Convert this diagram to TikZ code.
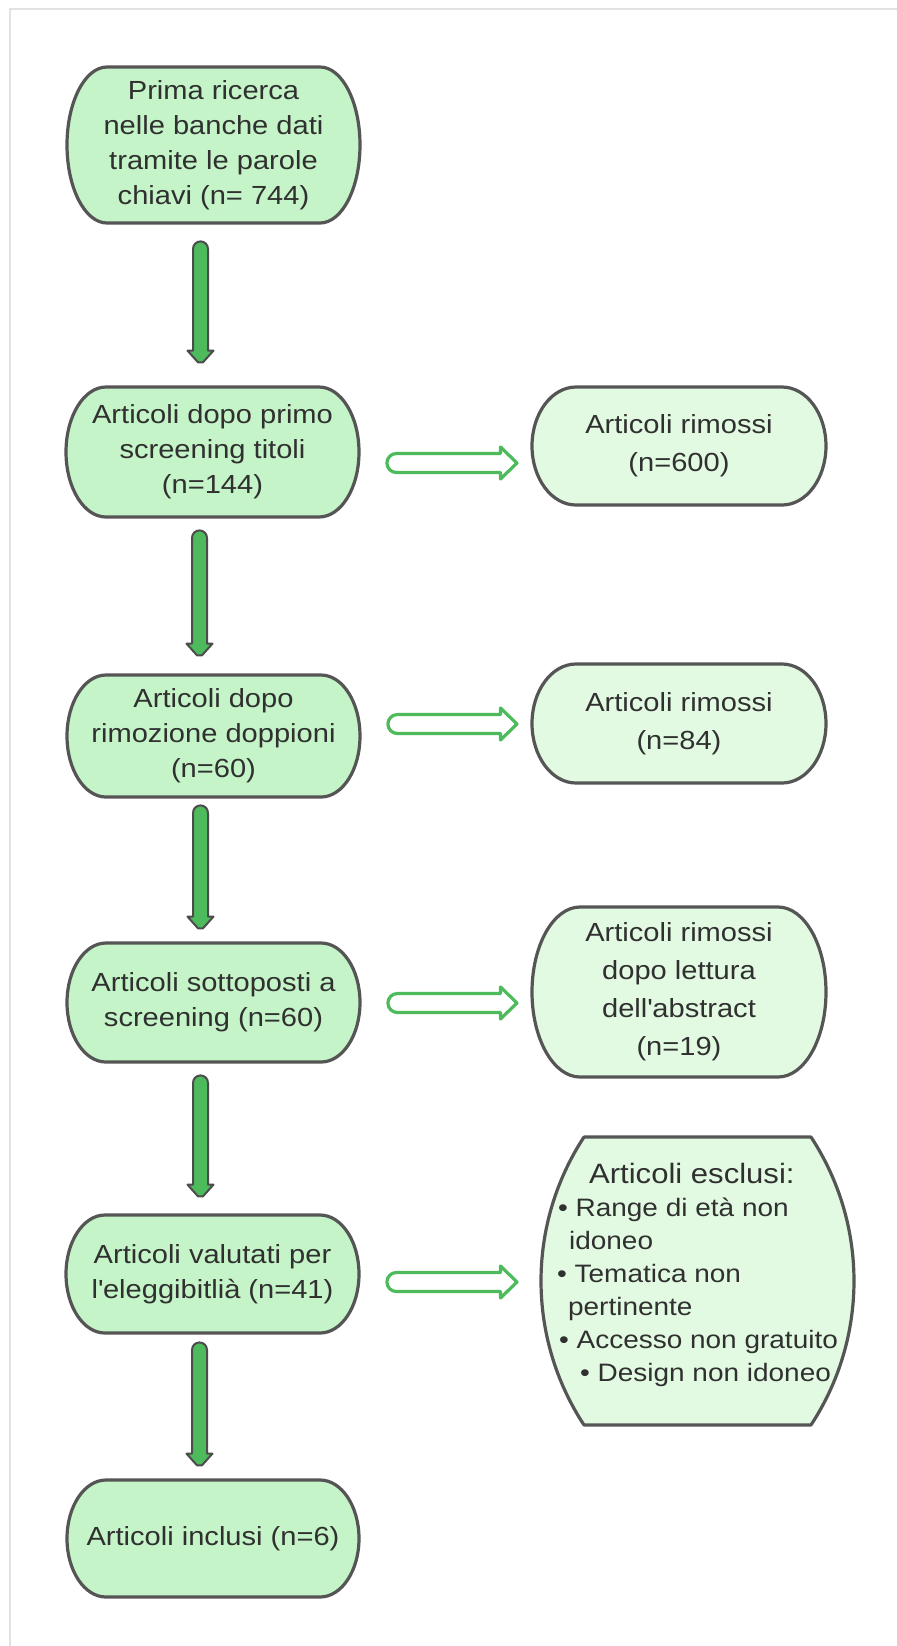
\documentclass[tikz,border=0pt]{standalone}
\usepackage{fontspec}
\setmainfont{Liberation Sans}[FakeStretch=1.11]
\usetikzlibrary{calc}

\definecolor{boxline}{HTML}{555555}
\definecolor{fillmain}{HTML}{C4F4C7}
\definecolor{fillside}{HTML}{E2FAE2}
\definecolor{arrowgreen}{HTML}{4DBB5B}
\definecolor{txtgray}{HTML}{303030}
\definecolor{framegray}{HTML}{E2E2E2}

% Box with half-ellipse ends: [node options]{name}{x0}{y0}{x1}{y1}{bulge}{fill}{text}
% (positions in px, y measured downwards)
\newcommand\pillbox[9][]{%
  \pgfmathsetmacro\pbh{(#6-#4)/2}%
  \pgfmathsetmacro\pbw{(#5-#3)*0.5}%
  \pgfmathsetmacro\pbht{(#6-#4)*0.5}%
  \draw[outline, fill=#8] (#3+#7,-#4) -- (#5-#7,-#4)
     arc[start angle=90, end angle=-90, x radius=#7, y radius=\pbh]
     -- (#3+#7,-#6)
     arc[start angle=270, end angle=90, x radius=#7, y radius=\pbh] -- cycle;
  \node[boxtext, minimum width=\pbw pt, minimum height=\pbht pt, #1] (#2)
     at ({(#3+#5)/2},{-(#4+#6)/2}) {#9};%
}

% Box with circular-arc sides meeting the flat edges at a corner
\newcommand\barrelbox[9][]{%
  \pgfmathsetmacro\pbh{(#6-#4)/2}%
  \pgfmathsetmacro\pbr{#7/2+\pbh*(\pbh/#7)/2}%
  \pgfmathsetmacro\pba{asin(\pbh/\pbr)}%
  \pgfmathsetmacro\pbw{(#5-#3)*0.5}%
  \pgfmathsetmacro\pbht{(#6-#4)*0.5}%
  \draw[outline, fill=#8] (#3+#7,-#4) -- (#5-#7,-#4)
     arc[start angle=\pba, end angle=-\pba, radius=\pbr]
     -- (#3+#7,-#6)
     arc[start angle=180+\pba, end angle=180-\pba, radius=\pbr] -- cycle;
  \node[boxtext, minimum width=\pbw pt, minimum height=\pbht pt, #1] (#2)
     at ({(#3+#5)/2},{-(#4+#6)/2}) {#9};%
}

% Solid downward arrow: {from}{to}{x offset}{top gap}{bottom gap}
\newcommand\downconn[5]{%
  \draw[downarrow] let \p1=($(#1.south)+(#3,-#4)$), \p2=($(#2.north)+(#3,#5)$) in
    (\x1-3.75pt,\y1-3.75pt) arc[start angle=180, end angle=0, radius=3.75pt]
    -- (\x1+3.75pt,\y2+6.5pt) -- (\x1+6.5pt,\y2+6.5pt)
    -- (\x1+1.2pt,\y2+0.6pt) -- (\x1-1.2pt,\y2+0.6pt)
    -- (\x1-6.5pt,\y2+6.5pt) -- (\x1-3.75pt,\y2+6.5pt) -- cycle;%
}

% Hollow side arrow: {from}{to}{y in px}{tip x in px}
\newcommand\sideconn[4]{%
  \draw[hollowarrow] let \p1=(#1.east), \p2=(#2.west), \p3=(#4,-#3) in
    (\x1+18.5pt,\y3+4.75pt) -- (\x3-8.25pt,\y3+4.75pt) -- (\x3-8.25pt,\y3+8pt)
    -- (\x3,\y3) -- (\x3-8.25pt,\y3-8pt) -- (\x3-8.25pt,\y3-4.75pt)
    -- (\x1+18.5pt,\y3-4.75pt) arc[start angle=270, end angle=90, radius=4.75pt] -- cycle;%
}

\begin{document}
\begin{tikzpicture}[x=0.5pt, y=0.5pt,
  outline/.style={draw=boxline, line width=1.6pt, line join=round},
  boxtext/.style={text=txtgray, align=center, inner sep=0pt, draw=none,
    font=\fontsize{13.1}{17.5}\selectfont},
  sidetext/.style={font=\fontsize{13.1}{19}\selectfont},
  downarrow/.style={fill=arrowgreen, draw=boxline!90!black, line width=1pt, line join=round},
  hollowarrow/.style={fill=white, draw=arrowgreen, line width=1.6pt, line join=round},
  frameline/.style={draw=framegray, line width=1pt}]

\fill[white] (0,0) rectangle (897,-1646);
\useasboundingbox (0,0) rectangle (897,-1646);
\draw[frameline] (10,-1646) -- (10,-9) -- (897,-9);

% main column
\pillbox{b1}{67}{67}{360}{223}{40}{fillmain}{Prima ricerca\\nelle banche dati\\tramite le parole\\chiavi (n= 744)}
\pillbox{b2}{66}{387}{359}{517}{40}{fillmain}{Articoli dopo primo\\screening titoli\\(n=144)}
\pillbox{b3}{67}{675}{360}{797}{39}{fillmain}{Articoli dopo\\rimozione doppioni\\(n=60)}
\pillbox{b4}{67}{943}{360}{1062}{39}{fillmain}{Articoli sottoposti a\\screening (n=60)}
\pillbox{b5}{66}{1215}{359}{1333}{39}{fillmain}{Articoli valutati per\\l\textquotesingle eleggibitlià (n=41)}
\pillbox{b6}{67}{1480}{359}{1597}{39}{fillmain}{Articoli inclusi (n=6)}

% side column
\pillbox[sidetext]{r1}{532}{387}{826}{505}{44}{fillside}{Articoli rimossi\\(n=600)}
\pillbox[sidetext]{r2}{532}{664}{826}{783}{44}{fillside}{Articoli rimossi\\(n=84)}
\pillbox[sidetext]{r3}{532}{907}{826}{1077}{48}{fillside}{Articoli rimossi\\dopo lettura\\dell\textquotesingle abstract\\(n=19)}
\barrelbox[align=left, yshift=3pt, font=\fontsize{12.6}{16.5}\selectfont]{r4}{541}{1137}{854}{1425}{43}{fillside}{%
  \hspace*{16pt}{\fontsize{14}{16.5}\selectfont Articoli esclusi:}\\
  \hspace*{0.5pt}• Range di età non\\
  \hspace*{6pt}idoneo\\
  • Tematica non\\
  \hspace*{5.5pt}pertinente\\
  \hspace*{1pt}• Accesso non gratuito\\
  \hspace*{11.5pt}• Design non idoneo}

% flow downwards
\downconn{b1}{b2}{-6.5pt}{9pt}{11.5pt}
\downconn{b2}{b3}{-6.5pt}{6.5pt}{9pt}
\downconn{b3}{b4}{-6.5pt}{4pt}{6.5pt}
\downconn{b4}{b5}{-6.5pt}{6.5pt}{8.5pt}
\downconn{b5}{b6}{-6.5pt}{4.5pt}{6.5pt}

% removals
\sideconn{b2}{r1}{463}{517}
\sideconn{b3}{r2}{724}{517}
\sideconn{b4}{r3}{1003}{517}
\sideconn{b5}{r4}{1282}{517}

\end{tikzpicture}
\end{document}
